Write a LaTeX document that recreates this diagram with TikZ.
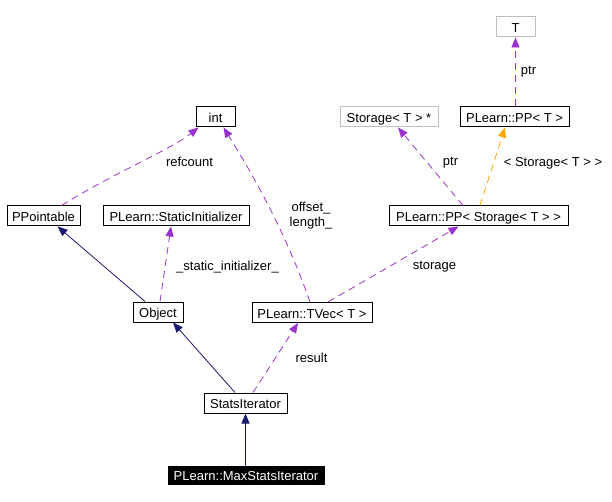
\documentclass[tikz,border=0pt]{standalone}
\usepackage{fontspec}
\setmainfont{Liberation Sans}
\usetikzlibrary{arrows.meta}
\definecolor{navyedge}{HTML}{191970}
\definecolor{purpleedge}{HTML}{9A32CD}
\definecolor{orangeedge}{HTML}{FFA500}
\definecolor{grayborder}{HTML}{BFBFBF}
\begin{document}
\begin{tikzpicture}[x=1pt,y=-1pt,
  every node/.style={font=\fontsize{13}{15}\selectfont},
  cls/.style={draw=black,line width=1pt,rectangle,inner sep=0pt,minimum height=20pt,fill=white,text height=11.5pt,text depth=0.5pt},
  ext/.style={cls,draw=grayborder},
  cur/.style={cls,fill=black,text=white,minimum height=18pt},
  lbl/.style={inner sep=0pt,align=center},
  inherit/.style={draw=navyedge,line width=0.8pt,-{Triangle[length=10pt,width=8pt]}},
  use/.style={draw=purpleedge,line width=0.8pt,dash pattern=on 7pt off 5pt,-{Triangle[length=10pt,width=8pt]}},
  tmpl/.style={draw=orangeedge,line width=0.8pt,dash pattern=on 7pt off 5pt,-{Triangle[length=10pt,width=8pt]}}]
\useasboundingbox (0,0) rectangle (612,502);
\fill[white] (0,0) rectangle (612,502);

\node[ext,minimum width=39pt] (T) at (515.5,27) {T};
\node[cls,minimum width=109pt] (PPT) at (514.5,117) {PLearn::PP< T >};
\node[ext,minimum width=98pt] (SP) at (389,117) {Storage< T > *};
\node[cls,minimum width=179pt] (PPS) at (478.5,216) {PLearn::PP< Storage< T > >};
\node[cls,minimum width=39pt] (int) at (215.5,117) {int};
\node[cls,minimum width=73pt] (PPo) at (43.5,216) {PPointable};
\node[cls,minimum width=146pt] (SI) at (176,216) {PLearn::StaticInitializer};
\node[cls,minimum width=50pt] (Obj) at (158,312) {Object};
\node[cls,minimum width=120pt] (TV) at (312,312.5) {PLearn::TVec< T >};
\node[cls,minimum width=83pt] (SIt) at (245.5,403) {StatsIterator};
\node[cur,minimum width=156pt] (Max) at (246,475) {PLearn::MaxStatsIterator};

\draw[use] ([xshift=18pt]PPo.north) .. controls (110,175) and (170,150) .. ([xshift=-17pt]int.south);
\node[lbl] (l1) at (189.5,162) {refcount};

\draw[inherit] ([xshift=-13pt]Obj.north) -- ([xshift=14pt]PPo.south);

\draw[use] ([xshift=2pt]Obj.north) -- ([xshift=-5pt]SI.south);
\node[lbl] (l2) at (227.5,267) {\_static\_initializer\_};

\draw[use] ([xshift=-2pt]TV.north) .. controls (285,230) and (250,170) .. ([xshift=8pt]int.south);
\node[lbl] (l3) at (311,216) {offset\_\\length\_};

\draw[use] ([xshift=16pt]TV.north) -- ([xshift=-20pt]PPS.south);
\node[lbl] (l4) at (434.5,267) {storage};

\draw[use] ([xshift=-15.5pt]PPS.north) -- ([xshift=9pt]SP.south);
\node[lbl] (l5) at (450.5,163) {ptr};

\draw[tmpl] ([xshift=1.5pt]PPS.north) -- ([xshift=-9.5pt]PPT.south);
\node[lbl] (l6) at (553,163) {< Storage< T > >};

\draw[use] (T.south |- PPT.north) -- (T.south);
\node[lbl] (l7) at (528.5,72) {ptr};

\draw[inherit] ([xshift=-10.5pt]SIt.north) -- ([xshift=15pt]Obj.south);

\draw[use] ([xshift=7.5pt]SIt.north) -- ([xshift=-14pt]TV.south);
\node[lbl] (l8) at (311.5,358) {result};

\draw[inherit] (SIt.south |- Max.north) -- (SIt.south);
\end{tikzpicture}
\end{document}
